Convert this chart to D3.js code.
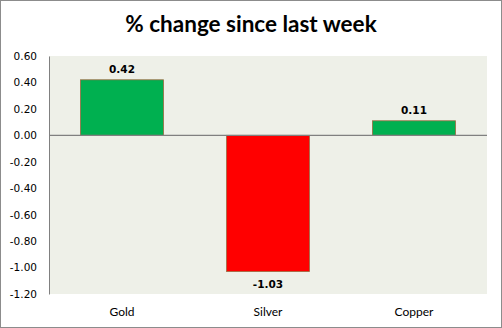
<!DOCTYPE html>
<html>
<head>
<meta charset="utf-8">
<script src="https://cdn.jsdelivr.net/npm/d3@7"></script>
<style>
  html, body { margin: 0; padding: 0; background: #fff; }
  svg { display: block; }
</style>
</head>
<body>
<script>
// Weekly % change by metal
const categories = ["Gold", "Silver", "Copper"];
const changes = [0.42, -1.03, 0.11];
const yTicks = [0.60, 0.40, 0.20, 0.00, -0.20, -0.40, -0.60, -0.80, -1.00, -1.20];
const title = "% change since last week";

const W = 502, H = 328;
const plot = { left: 49, right: 487, top: 56, bottom: 294 };

// two decimals with a plain hyphen for negatives
const fmt = d3.formatLocale({ decimal: ".", thousands: ",", grouping: [3], currency: ["", ""], minus: "-" }).format(".2f");

const svg = d3.select("body").append("svg")
  .attr("width", W).attr("height", H);

// outer frame
svg.append("rect")
  .attr("x", 0.5).attr("y", 0.5)
  .attr("width", W - 1).attr("height", H - 1)
  .attr("fill", "#fff").attr("stroke", "#8c8c8c");

// title
svg.append("text")
  .attr("x", 251).attr("y", 32)
  .attr("text-anchor", "middle")
  .attr("font-family", "Lato, 'Open Sans', sans-serif")
  .attr("font-weight", "bold")
  .attr("font-size", 22.5)
  .attr("fill", "#000")
  .text(title);

const x = d3.scaleBand()
  .domain(categories)
  .range([plot.left, plot.right])
  .paddingInner(0.425)
  .paddingOuter(0.2125);

const y = d3.scaleLinear()
  .domain([-1.2, 0.6])
  .range([plot.bottom, plot.top]);

// plot background
svg.append("rect")
  .attr("x", plot.left).attr("y", plot.top)
  .attr("width", plot.right - plot.left)
  .attr("height", plot.bottom - plot.top)
  .attr("fill", "#eef0e8");

// y axis
const yAxis = d3.axisLeft(y)
  .tickValues(yTicks)
  .tickSize(0)
  .tickPadding(12)
  .tickFormat(fmt);

const gy = svg.append("g")
  .attr("transform", `translate(${plot.left},0)`)
  .call(yAxis);
gy.select(".domain").attr("stroke", "#808080");
gy.selectAll("text")
  .attr("font-family", "'DejaVu Sans', Verdana, sans-serif")
  .attr("font-size", 10.5)
  .attr("fill", "#000");

// bars
const colour = v => v >= 0 ? "#00b050" : "#ff0000";
svg.append("g").selectAll("rect")
  .data(categories)
  .join("rect")
  .attr("x", d => x(d) + 0.5)
  .attr("width", x.bandwidth() - 1)
  .attr("y", (d, i) => y(Math.max(0, changes[i])))
  .attr("height", (d, i) => Math.abs(y(changes[i]) - y(0)))
  .attr("fill", (d, i) => colour(changes[i]))
  .attr("stroke", "#9a6a40")
  .attr("stroke-width", 0.8);

// zero line
svg.append("line")
  .attr("x1", plot.left).attr("x2", plot.right)
  .attr("y1", y(0)).attr("y2", y(0))
  .attr("stroke", "#808080").attr("stroke-width", 1.2);

// value labels
svg.append("g").selectAll("text")
  .data(categories)
  .join("text")
  .attr("x", d => x(d) + x.bandwidth() / 2)
  .attr("y", (d, i) => changes[i] >= 0 ? y(changes[i]) - 7 : y(changes[i]) + 16)
  .attr("text-anchor", "middle")
  .attr("font-family", "'DejaVu Sans', Verdana, sans-serif")
  .attr("font-weight", "bold")
  .attr("font-size", 10.5)
  .attr("fill", "#000")
  .text((d, i) => fmt(changes[i]));

// category labels
svg.append("g").selectAll("text")
  .data(categories)
  .join("text")
  .attr("x", d => x(d) + x.bandwidth() / 2)
  .attr("y", 316)
  .attr("text-anchor", "middle")
  .attr("font-family", "Lato, 'Open Sans', sans-serif")
  .attr("font-size", 12)
  .attr("fill", "#000")
  .text(d => d);
</script>
</body>
</html>
